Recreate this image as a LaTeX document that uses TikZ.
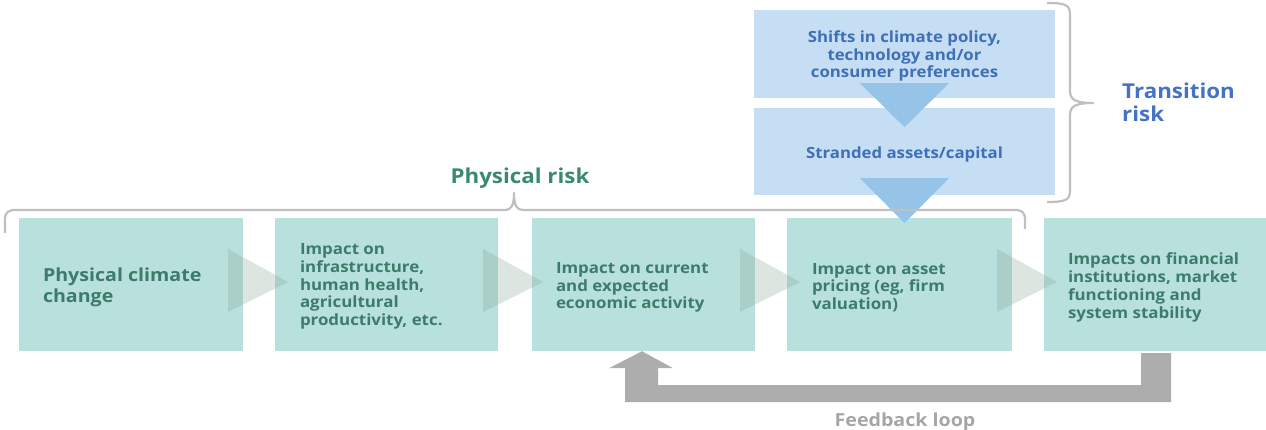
\documentclass[tikz,border=0pt]{standalone}
\usepackage{fontspec}
\setmainfont{Open Sans}[FakeStretch=1.09]
\usetikzlibrary{calc}
\definecolor{tealbox}{HTML}{B8E1DD}
\definecolor{tealtext}{HTML}{3D7C6A}
\definecolor{physred}{HTML}{3A8A6E}
\definecolor{bluebox}{HTML}{C5DEF3}
\definecolor{bluetext}{HTML}{3F6FB6}
\definecolor{transblue}{HTML}{4472C4}
\definecolor{tribblue}{HTML}{95C4E8}
\definecolor{chev}{HTML}{8AA898}
\definecolor{bracegray}{HTML}{BFBFBF}
\definecolor{fbgray}{HTML}{ADADAD}
\definecolor{fbtext}{HTML}{A6A6A6}
\tikzset{
  tbox/.style={fill=tealbox, draw=none, minimum height=133pt, inner sep=0pt},
  ttext/.style={anchor=west, inner sep=0pt, align=left, text=tealtext,
    font=\bfseries\fontsize{15.5}{17.8}\selectfont},
  bbox/.style={fill=bluebox, draw=none, minimum width=301pt, inner sep=0pt},
  btext/.style={inner sep=0pt, align=center, text=bluetext,
    font=\bfseries\fontsize{15.4}{17.6}\selectfont},
  chevron/.style={fill=chev, fill opacity=0.3, draw=none},
  btri/.style={fill=tribblue, draw=none},
  brace/.style={draw=bracegray, line width=2.2pt, line join=round},
  risklabel/.style={font=\bfseries\fontsize{20.5}{23}\selectfont, align=left},
}
\begin{document}
\begin{tikzpicture}[x=1pt, y=-1pt]
\useasboundingbox (0,0) rectangle (1266,430);
% teal boxes
\node[tbox, minimum width=224pt] (b1) at (131,284.5) {};
\node[tbox, minimum width=223pt] (b2) at (386.5,284.5) {};
\node[tbox, minimum width=223pt] (b3) at (643.5,284.5) {};
\node[tbox, minimum width=225pt] (b4) at (899.5,284.5) {};
\node[tbox, minimum width=222pt] (b5) at (1155,284.5) {};
\node[ttext, font=\bfseries\fontsize{18}{21}\selectfont] (x1) at ($(b1.west)+(24,3)$) {Physical climate\\change};
\node[ttext] (x2) at ($(b2.west)+(25,2)$) {Impact on\\infrastructure,\\human health,\\agricultural\\productivity, etc.};
\node[ttext] (x3) at ($(b3.west)+(24,3)$) {Impact on current\\and expected\\economic activity};
\node[ttext] (x4) at ($(b4.west)+(25,3)$) {Impact on asset\\pricing (eg, firm\\valuation)};
\node[ttext] (x5) at ($(b5.west)+(24,3)$) {Impacts on financial\\institutions, market\\functioning and\\system stability};
% chevrons
\foreach \a in {b1,b2,b3,b4}{
  \fill[chevron] ($(\a.east)+(-15,-35.5)$) -- ($(\a.east)+(-15,27.5)$) -- ($(\a.east)+(45,-2.5)$) -- cycle;
}
% blue boxes
\node[bbox, minimum height=88pt] (t1) at (904.5,54) {};
\node[bbox, minimum height=87pt] (t2) at (904.5,151.5) {};
\node[btext] (y1) at ($(t1.center)+(0,2)$) {Shifts in climate policy,\\technology and/or\\consumer preferences};
\node[btext] (y2) at ($(t2.center)+(0,3)$) {Stranded assets/capital};
\fill[btri] ($(t1.south)+(-44.5,-15)$) -- ($(t1.south)+(44.5,-15)$) -- ($(t1.south)+(0,29)$) -- cycle;
\fill[btri] ($(t2.south)+(-44.5,-17)$) -- ($(t2.south)+(44.5,-17)$) -- ($(t2.south)+(0,28)$) -- cycle;
% transition brace
\draw[brace] (1047,3) .. controls (1066,3) and (1070,5) .. (1070,15) -- (1070,91)
  .. controls (1070,100) and (1076,103) .. (1093,103)
  .. controls (1076,103) and (1070,106) .. (1070,115) -- (1070,190)
  .. controls (1070,200) and (1066,202) .. (1047,202);
\node[risklabel, text=transblue, anchor=west, inner sep=0pt] (tr) at (1122,102) {Transition\\risk};
% physical brace
\draw[brace] (5,233) -- (5,220) .. controls (5,212) and (8,210) .. (16,210) -- (505,210)
  .. controls (511,210) and (514,206) .. (514,193)
  .. controls (514,206) and (517,210) .. (523,210) -- (1014,210)
  .. controls (1022,210) and (1025,212) .. (1025,220) -- (1025,229);
\node[risklabel, text=physred, inner sep=0pt] (pr) at (520,178) {Physical risk};
% feedback loop
\coordinate (fbs) at ($(b5.south)+(1,2)$);
\coordinate (fbe) at ($(b3.south)+(-1.5,0)$);
\fill[fbgray] ($(fbs)+(-15,0)$) -- ($(fbs)+(15,0)$) -- ($(fbs)+(15,49)$)
  -- ($(fbe)+(-17,51)$) -- ($(fbe)+(-17,17)$) -- ($(fbe)+(-33,17)$) -- (fbe)
  -- ($(fbe)+(31,17)$) -- ($(fbe)+(16,17)$) -- ($(fbe)+(16,34)$) -- ($(fbs)+(-15,32)$) -- cycle;
\node[text=fbtext, font=\bfseries\fontsize{18}{20}\selectfont, inner sep=0pt] (fb) at (905,422) {Feedback loop};
\end{tikzpicture}
\end{document}
